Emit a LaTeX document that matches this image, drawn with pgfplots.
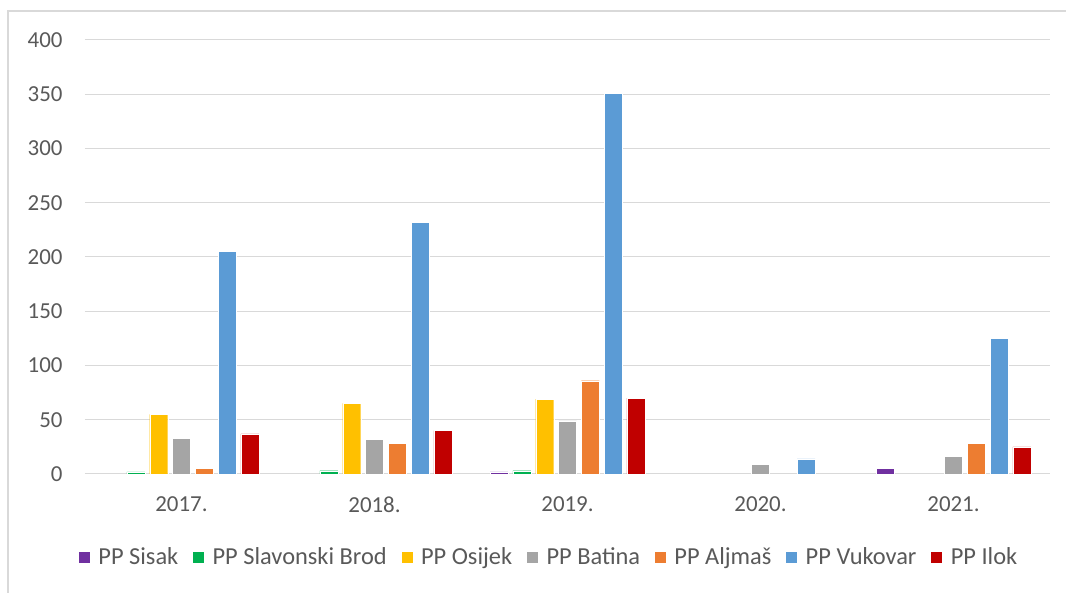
\documentclass[border=0pt]{standalone}
\usepackage{pgfplots}
\pgfplotsset{compat=1.18}
\usepackage{fontspec}
\setmainfont{Carlito}
\definecolor{sisak}{HTML}{7030A0}
\definecolor{sbrod}{HTML}{00B050}
\definecolor{osijek}{HTML}{FFC000}
\definecolor{batina}{HTML}{A5A5A5}
\definecolor{aljmas}{HTML}{ED7D31}
\definecolor{vukovar}{HTML}{5B9BD5}
\definecolor{ilok}{HTML}{C00000}
\definecolor{gridgray}{HTML}{D9D9D9}
\definecolor{txtgray}{HTML}{595959}
\begin{document}
\begin{tikzpicture}[x=1bp,y=1bp]
\useasboundingbox (-85,-119) rectangle (981,474);
\draw[gridgray, line width=1.5bp] (-77,-125) -- (-77,463) -- (990,463);
\begin{axis}[
  at={(0,0)}, anchor=south west,
  scale only axis, width=965bp, height=434bp,
  ybar=4.8bp, bar width=18bp,
  xmin=-0.5, xmax=4.5, ymin=0, ymax=400,
  xtick={0,1,2,3,4},
  xticklabels={2017.,2018.,2019.,2020.,2021.},
  ytick={0,50,...,400},
  axis line style={draw=none},
  tick style={draw=none},
  ymajorgrids, grid style={gridgray, line width=1bp},
  tick label style={text=txtgray, font=\fontsize{23}{27}\selectfont},
  /pgf/number format/assume math mode=true,
  yticklabel style={xshift=-19bp},
  xticklabel style={yshift=-15bp},
  every axis plot/.append style={draw=white, line width=0.3bp},
  legend style={at={(0.481,-0.191)}, anchor=center, draw=none, fill=none,
    legend columns=-1, text=txtgray, font=\fontsize{24.5}{29}\selectfont,
    /tikz/every odd column/.append style={column sep=5bp},
    /tikz/every even column/.append style={column sep=11bp},
    nodes={inner xsep=3bp}},
  legend image code/.code={\fill[#1] (0bp,-6bp) rectangle (12bp,6bp);},
]
\addplot[fill=sisak] coordinates {(2,2) (4,5)};
\addplot[fill=sbrod] coordinates {(0,2) (1,3) (2,3)};
\addplot[fill=osijek] coordinates {(0,55) (1,65) (2,69)};
\addplot[fill=batina] coordinates {(0,33) (1,32) (2,49) (3,9) (4,16)};
\addplot[fill=aljmas] coordinates {(0,5) (1,28) (2,86) (4,28)};
\addplot[fill=vukovar] coordinates {(0,205) (1,232) (2,351) (3,14) (4,125)};
\addplot[fill=ilok] coordinates {(0,37) (1,40) (2,70) (4,25)};
\legend{PP Sisak, PP Slavonski Brod, PP Osijek, PP Batina, PP Aljmaš, PP Vukovar, PP Ilok}
\end{axis}
\end{tikzpicture}
\end{document}
